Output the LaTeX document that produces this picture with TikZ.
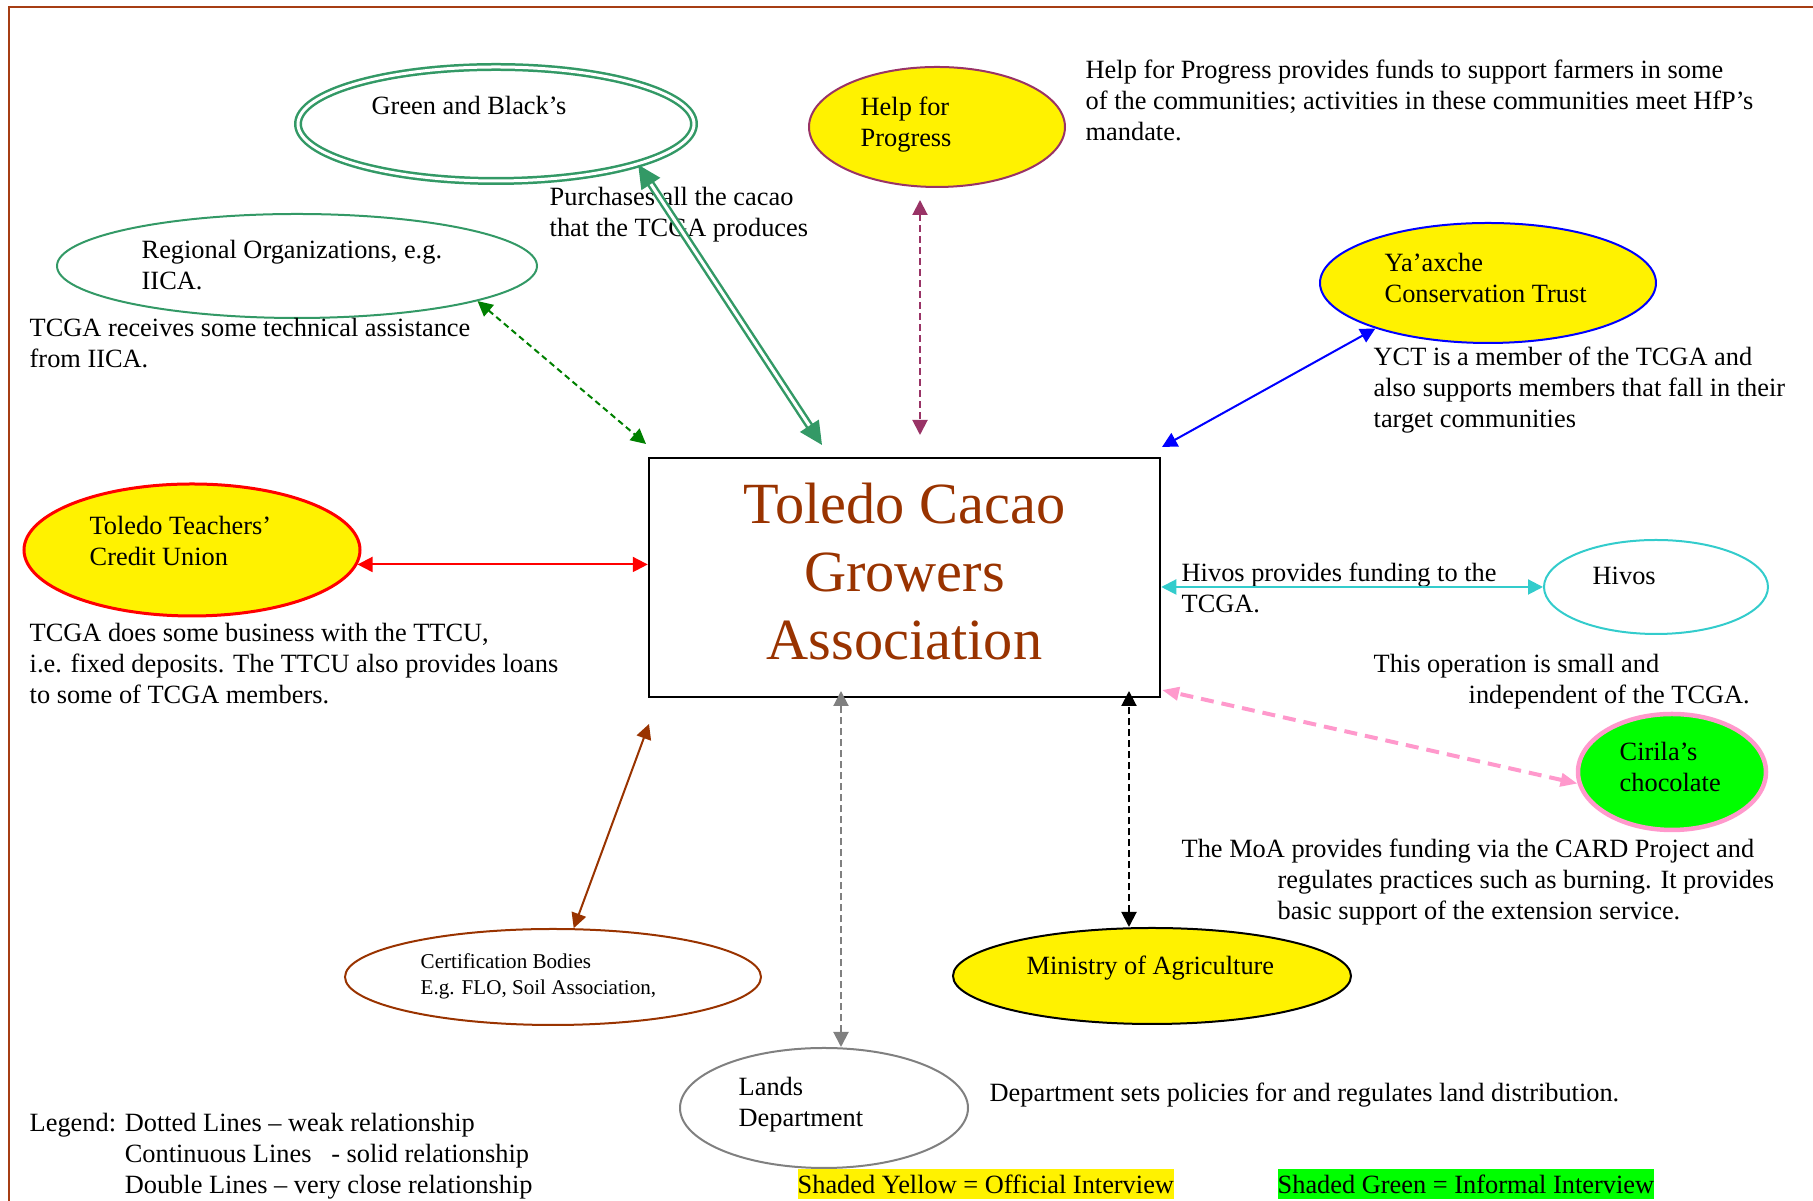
\documentclass[tikz,border=0pt]{standalone}
\usepackage{fontspec}
\setmainfont{Liberation Serif}
\usetikzlibrary{shapes.geometric,arrows.meta}
\definecolor{FrameBrown}{RGB}{166,62,20}
\definecolor{TitleBrown}{RGB}{153,51,0}
\definecolor{SeaGreen}{RGB}{51,153,102}
\definecolor{LeafGreen}{RGB}{0,128,0}
\definecolor{PlumPurple}{RGB}{153,51,102}
\definecolor{HivosCyan}{RGB}{51,204,204}
\definecolor{RosePink}{RGB}{255,153,204}
\definecolor{BrightGreen}{RGB}{0,255,0}
\newcommand{\bodysize}{\fontsize{7.5}{8.8}\selectfont}

\begin{document}
\begin{tikzpicture}[x=0.1mm, y=-0.1mm,
  org/.style={ellipse, draw, line width=0.2mm, inner sep=0pt},
  official/.style={org, fill=yellow},
  txt/.style={anchor=north west, align=left, inner sep=0pt, font=\bodysize, yshift=0.3mm},
  link/.style={{Triangle[length=1.5mm,width=1.5mm]}-{Triangle[length=1.5mm,width=1.5mm]}, line width=0.2mm},
  weak/.style={link, dash pattern=on 0.7mm off 0.4mm},
  key/.style={anchor=west, inner xsep=0pt, inner ysep=0.6mm, font=\bodysize}
]
\useasboundingbox (0,0) rectangle (1813,1201);

% ---- frame ----
\draw[FrameBrown, line width=0.2mm] (9,1210) -- (9,7) -- (1820,7);

% ---- centre ----
\node[draw, line width=0.25mm, minimum width=51.1mm, minimum height=23.9mm,
      align=center, text=TitleBrown, text depth=1.2mm, font=\fontsize{16.6}{19.3}\selectfont]
      (tcga) at (904.5,577.5) {Toledo Cacao\\Growers\\Association};

% ---- organisations ----
\node[org, draw=SeaGreen, line width=0.25mm, double=white, double distance=0.3mm,
      minimum width=39.6mm, minimum height=11.4mm] (gb) at (496,124) {};
\node[txt] (gbtxt) at (371,99) {Green and Black’s};

\node[official, draw=PlumPurple, minimum width=25.6mm, minimum height=12mm] (hfp) at (937,127) {};
\node[txt] (hfptxt) at (860,99) {Help for\\Progress};

\node[org, draw=SeaGreen, minimum width=48mm, minimum height=10.4mm] (reg) at (297,266) {};
\node[txt] (regtxt) at (141,243) {Regional Organizations, e.g.\\IICA.};

\node[official, draw=blue, minimum width=33.6mm, minimum height=12mm] (yct) at (1488,283) {};
\node[txt] (ycttxt) at (1384,256) {Ya’axche\\Conservation Trust};

\node[official, draw=red, line width=0.3mm, minimum width=33.6mm, minimum height=13.2mm] (ttcu) at (192,550) {};
\node[txt] (ttcutxt) at (89,519) {Toledo Teachers’\\Credit Union};

\node[org, draw=HivosCyan, minimum width=22.4mm, minimum height=9.4mm] (hivos) at (1656,587) {};
\node[txt] (hivostxt) at (1592,569) {Hivos};

\node[org, draw=RosePink, fill=BrightGreen, line width=0.45mm, minimum width=18.8mm, minimum height=11.6mm] (cirila) at (1672,772) {};
\node[txt] (cirtxt) at (1619,745) {Cirila’s\\chocolate};

\node[official, draw=black, minimum width=39.8mm, minimum height=9.6mm] (moa) at (1152,976) {};
\node[txt] (moatxt) at (1026,958) {Ministry of Agriculture};

\node[org, draw=TitleBrown, minimum width=41.6mm, minimum height=9.6mm] (cb) at (553,977) {};
\node[txt, font=\fontsize{6}{7.3}\selectfont] (cbtxt) at (420,956) {Certification Bodies\\E.g. FLO, Soil Association,};

\node[org, draw=gray, minimum width=28.8mm, minimum height=12mm] (lands) at (824,1108) {};
\node[txt] (landstxt) at (738,1080) {Lands\\Department};

% ---- notes ----
\node[txt] (hfpnote) at (1085,62) {Help for Progress provides funds to support farmers in some\\of the communities; activities in these communities meet HfP’s\\mandate.};
\node[txt] (gbnote) at (549,190) {Purchases all the cacao\\that the TCGA produces};
\node[txt] (regnote) at (29,321) {TCGA receives some technical assistance\\from IICA.};
\node[txt] (yctnote) at (1373,349) {YCT is a member of the TCGA and\\also supports members that fall in their\\target communities};
\node[txt] (ttcunote) at (29,626) {TCGA does some business with the TTCU,\\i.e. fixed deposits. The TTCU also provides loans\\to some of TCGA members.};
\node[txt] (hivosnote) at (1181,565) {Hivos provides funding to the\\TCGA.};
\node[txt] (cirnote) at (1373,657) {This operation is small and\\\hspace*{9.5mm}independent of the TCGA.};
\node[txt] (moanote) at (1181,841) {The MoA provides funding via the CARD Project and\\\hspace*{9.6mm}regulates practices such as burning. It provides\\\hspace*{9.6mm}basic support of the extension service.};
\node[txt] (landsnote) at (989,1085) {Department sets policies for and regulates land distribution.};

% ---- legend ----
\node[txt] (legend) at (29,1112) {\begin{tabular}{@{}l@{ }l@{}}Legend: & Dotted Lines – weak relationship\\
  & Continuous Lines \ \ - solid relationship\\
  & Double Lines – very close relationship\end{tabular}};
\node[key, fill=yellow] (keyyellow) at (797,1184) {Shaded Yellow = Official Interview};
\node[key, fill=BrightGreen] (keygreen) at (1277,1184) {Shaded Green = Informal Interview};

% ---- links ----
\coordinate (gbIn) at (822,445);
\coordinate (regIn) at (646,444);
\coordinate (hfpIn) at (920,435);
\coordinate (yctIn) at (1162,447);
\coordinate (cirIn) at (1162,690);
\coordinate (moaIn) at (1129,691);
\coordinate (landsIn) at (841,691);
\coordinate (cbIn) at (649,724);

\draw[{Triangle[length=2.3mm,width=2.2mm]}-{Triangle[length=2.3mm,width=2.2mm]}, SeaGreen,
      line width=0.25mm, double=white, double distance=0.3mm] (gb.-16) -- (gbIn);
\draw[weak, LeafGreen, dash pattern=on 0.6mm off 0.4mm] (reg.-11) -- (regIn);
\draw[weak, PlumPurple, shorten <=1.2mm] (hfp.south -| hfpIn) -- (hfpIn);
\draw[link, blue] (yct.202) -- (yctIn);
\draw[link, red] (ttcu.355) -- (ttcu.355 -| tcga.west);
\draw[link, HivosCyan] (hivos.west) -- (hivos.west -| tcga.east);
\draw[weak, RosePink, line width=0.4mm, dash pattern=on 1.3mm off 0.8mm,
      {Triangle[length=1.7mm,width=1.3mm]}-{Triangle[length=1.7mm,width=1.3mm]}] (cirila.187) -- (cirIn);
\draw[weak, black] (moa.north -| moaIn) -- (moaIn);
\draw[weak, gray] (lands.north -| landsIn) -- (landsIn);
\draw[link, TitleBrown] (cb.67) -- (cbIn);

\end{tikzpicture}
\end{document}
